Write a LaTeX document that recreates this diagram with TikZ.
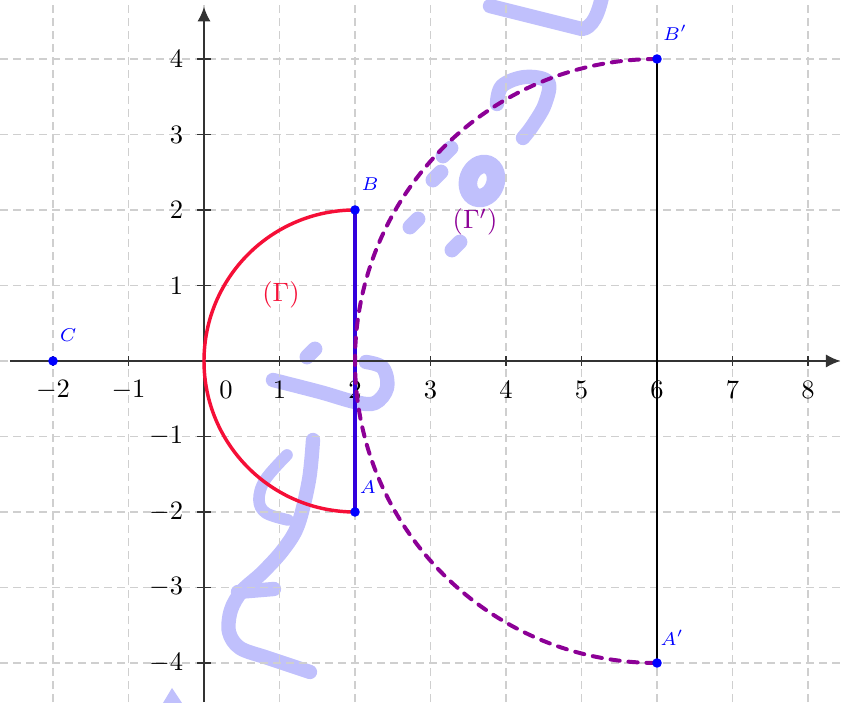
\documentclass[tikz,border=0pt]{standalone}
\usetikzlibrary{arrows.meta}
\definecolor{gred}{RGB}{245,15,55}
\definecolor{gpurple}{RGB}{140,0,150}
\definecolor{segblue}{RGB}{50,0,220}
\definecolor{wm}{RGB}{192,192,252}
\begin{document}
\begin{tikzpicture}[
  gridline/.style={gray!38, line width=0.5pt, dash pattern=on 3pt off 1.9pt},
  axisline/.style={black!80, line width=0.6pt},
  wmstroke/.style={wm, line width=5.4pt, line cap=round, line join=round},
  wmdot/.style={wm, line width=5.6pt, line cap=round},
  ptdot/.style={circle, fill=blue, inner sep=0pt, minimum size=3.6pt},
  ptlabel/.style={blue, font=\scriptsize, inner sep=0pt},
  tlabel/.style={font=\normalsize, inner sep=0pt},
  gammared/.style={gred, line width=1.3pt},
  gammapurple/.style={gpurple, line width=1.5pt, line cap=round, dash pattern=on 3.5pt off 3.3pt},
  segstyle/.style={segblue, line width=1.4pt},
  vline/.style={black, line width=0.5pt}
]
\useasboundingbox (-2.702,-4.517) rectangle (8.437,4.781);

% watermark (decorative strokes), in pixel coordinates
\begin{scope}[shift={(-2.702,4.781)}, x=0.013245cm, y=-0.013245cm]
  \draw[wmstroke] (490,6) -- (582,29) .. controls (592,28) and (598,15) .. (602,-3);
  \draw[wmstroke] plot[smooth, tension=0.6] coordinates {(497,104) (502,86) (525,77) (548,82) (545,104) (533,125) (523,138)};
  \draw[wm, line width=7pt, rotate around={-20:(482,181)}] (482,181) ellipse[x radius=0.18cm, y radius=0.23cm];
  \foreach \p in {(447,152),(437,176),(414,223),(456,246),(311,353)}
    \draw[wmdot] \p ++(-4,4) -- ++(8,-8);
  \draw[wmstroke] plot[smooth, tension=0.6] coordinates {(273,380) (320,392) (355,402) (375,403) (387,388) (383,368) (366,362)};
  \draw[wmstroke] plot[smooth, tension=0.55] coordinates {(313,440) (309,480) (298,525) (283,550) (262,573) (242,591) (231,610) (229,632) (240,648) (268,658) (310,672)};
  \draw[wmstroke, line width=4.4pt] plot[smooth, tension=0.6] coordinates {(287,455) (265,480) (259,500) (266,513) (288,520)};
  \draw[wmstroke] (238,592) -- (274,589);
  \fill[wm] (163,703) -- (172,688) -- (182,703) -- cycle;
\end{scope}

% grid
\foreach \x in {-2,...,8}
  \draw[gridline] (\x,-4.517) -- (\x,4.781);
\foreach \y in {-4,...,4}
  \draw[gridline] (-2.702,\y) -- (8.437,\y);

% axes
\coordinate (xs) at (-2.57,0);
\coordinate (xe) at (8.43,0);
\coordinate (ys) at (0,-4.517);
\coordinate (ye) at (0,4.69);
\draw[axisline, -{Latex[length=5.5pt,width=5pt]}] (xs) -- (xe);
\draw[axisline, -{Latex[length=5.5pt,width=5pt]}] (ys) -- (ye);

% ticks and labels
\foreach \x in {-2,-1,1,2,3,4,5,6,7,8} {
  \draw[axisline] (\x,-0.06) -- (\x,0.06);
  \node[tlabel] (xl\x) at (\x,-0.38) {$\x$};
}
\node[tlabel] (xl0) at (0.29,-0.38) {$0$};
\foreach \y in {-4,-3,-2,-1,1,2,3,4} {
  \draw[axisline] (-0.09,\y) -- (0.09,\y);
  \node[tlabel, anchor=east] (yl\y) at (-0.27,\y) {$\y$};
}

% points
\coordinate (C) at (-2,0);
\coordinate (A) at (2,-2);
\coordinate (B) at (2,2);
\coordinate (Ap) at (6,-4);
\coordinate (Bp) at (6,4);

\draw[vline] (Bp) -- (Ap);
\draw[gammared] (B) arc[start angle=90, end angle=270, radius=2];
\draw[segstyle] (A) -- (B);
\draw[gammapurple] (Bp) arc[start angle=90, end angle=270, radius=4];

\foreach \p in {C,A,B,Ap,Bp}
  \node[ptdot] (dot\p) at (\p) {};

\node[ptlabel] (lC) at ([shift={(0.2,0.34)}]C) {$C$};
\node[ptlabel] (lA) at ([shift={(0.17,0.33)}]A) {$A$};
\node[ptlabel] (lB) at ([shift={(0.2,0.34)}]B) {$B$};
\node[ptlabel] (lAp) at ([shift={(0.2,0.33)}]Ap) {$A'$};
\node[ptlabel] (lBp) at ([shift={(0.24,0.34)}]Bp) {$B'$};

\node[gred, inner sep=0pt] (G) at (1.02,0.87) {$(\Gamma)$};
\node[gpurple, inner sep=0pt] (Gp) at (3.59,1.84) {$(\Gamma')$};
\end{tikzpicture}
\end{document}
